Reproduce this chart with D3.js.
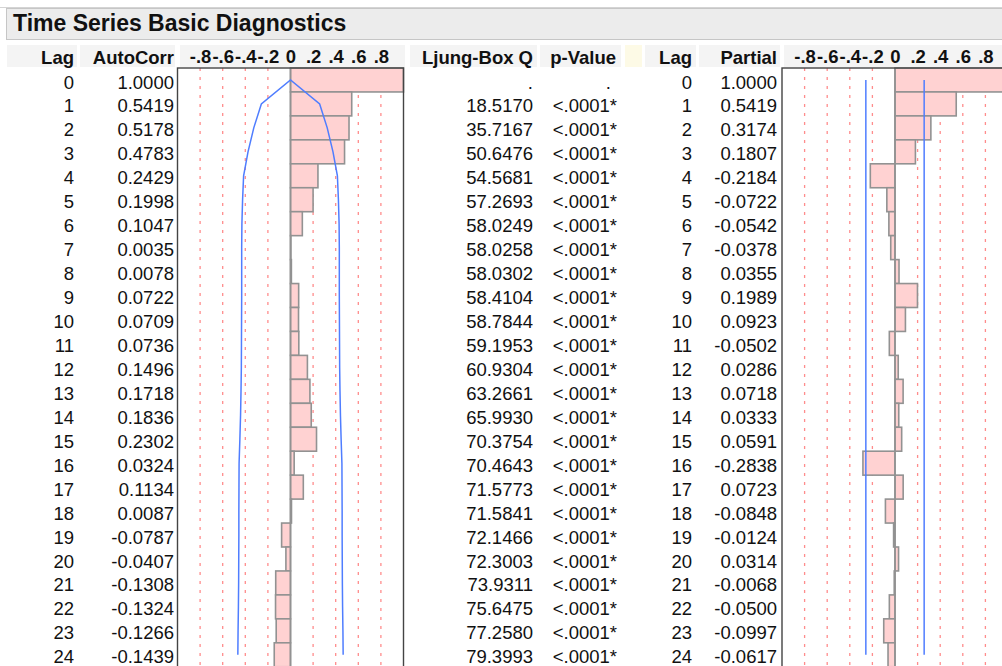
<!DOCTYPE html>
<html>
<head>
<meta charset="utf-8">
<script src="https://cdn.jsdelivr.net/npm/d3@7"></script>
<style>
body { margin: 0; background: #fff; }
svg text { font-family: "Liberation Sans", Arial, sans-serif; fill: #111; }
</style>
</head>
<body>
<div id="chart"></div>
<script>
var lags = [0, 1, 2, 3, 4, 5, 6, 7, 8, 9, 10, 11, 12, 13, 14, 15, 16, 17, 18, 19, 20, 21, 22, 23, 24];
var autoCorr = [1.0000, 0.5419, 0.5178, 0.4783, 0.2429, 0.1998, 0.1047, 0.0035, 0.0078, 0.0722, 0.0709, 0.0736,
    0.1496, 0.1718, 0.1836, 0.2302, 0.0324, 0.1134, 0.0087, -0.0787, -0.0407, -0.1308, -0.1324, -0.1266, -0.1439];
var ljungQ = [null, 18.5170, 35.7167, 50.6476, 54.5681, 57.2693, 58.0249, 58.0258, 58.0302, 58.4104, 58.7844, 59.1953,
    60.9304, 63.2661, 65.9930, 70.3754, 70.4643, 71.5773, 71.5841, 72.1466, 72.3003, 73.9311, 75.6475, 77.2580, 79.3993];
var pValue = [null, "<.0001*", "<.0001*", "<.0001*", "<.0001*", "<.0001*", "<.0001*", "<.0001*", "<.0001*", "<.0001*",
    "<.0001*", "<.0001*", "<.0001*", "<.0001*", "<.0001*", "<.0001*", "<.0001*", "<.0001*", "<.0001*", "<.0001*",
    "<.0001*", "<.0001*", "<.0001*", "<.0001*", "<.0001*"];
var partial = [1.0000, 0.5419, 0.3174, 0.1807, -0.2184, -0.0722, -0.0542, -0.0378, 0.0355, 0.1989, 0.0923, -0.0502,
    0.0286, 0.0718, 0.0333, 0.0591, -0.2838, 0.0723, -0.0848, -0.0124, 0.0314, -0.0068, -0.0500, -0.0997, -0.0617];
// confidence curve (half width per lag)
var acfLimit = [0, 0.258, 0.325, 0.376, 0.415, 0.424, 0.430, 0.432, 0.432, 0.432, 0.433, 0.434, 0.435,
    0.438, 0.442, 0.448, 0.455, 0.456, 0.457, 0.457, 0.458, 0.459, 0.461, 0.464, 0.466];
var pacfLimit = 0.258;
var tickValues = [-0.8, -0.6, -0.4, -0.2, 0, 0.2, 0.4, 0.6, 0.8];
var tickLabels = ["-.8", "-.6", "-.4", "-.2", "0", ".2", ".4", ".6", ".8"];

var width = 1002, height = 666;
var svg = d3.select('#chart').append('svg')
    .attr('width', width)
    .attr('height', height);

var rowTop = 68, rowH = 23.95;
var y = d3.scaleBand().domain(lags).range([rowTop, rowTop + lags.length * rowH]).padding(0);
var yc = function (lag) { return y(lag) + rowH / 2; };
var fmt = function (d) { return d3.format('.4f')(d).replace('\u2212', '-'); };
var blue = '#4f7dff';

// title bar
svg.append('line')
    .attr('x1', 0).attr('x2', width).attr('y1', 7.5).attr('y2', 7.5)
    .attr('stroke', '#d4d4d4');
svg.append('rect')
    .attr('x', 6.5).attr('y', 8.5)
    .attr('width', width).attr('height', 31)
    .attr('fill', '#ececec')
    .attr('stroke', '#c6c6c6');
svg.append('text')
    .attr('x', 13).attr('y', 31)
    .text('Time Series Basic Diagnostics')
    .style('font-size', '23px')
    .style('font-weight', 'bold');

// header cells
var headerCells = [[7, 77], [80, 175], [180, 405], [410, 537], [540, 621], [645, 696], [699, 780], [784, 1002]];
headerCells.forEach(function (c) {
    svg.append('rect')
        .attr('x', c[0]).attr('y', 45)
        .attr('width', c[1] - c[0]).attr('height', 22)
        .attr('fill', '#f4f4f4');
});
svg.append('rect')
    .attr('x', 625).attr('y', 45).attr('width', 17).attr('height', 22)
    .attr('fill', '#fdfae6');

var headers = [
    { label: 'Lag', x: 74 },
    { label: 'AutoCorr', x: 174 },
    { label: 'Ljung-Box Q', x: 533 },
    { label: 'p-Value', x: 616 },
    { label: 'Lag', x: 692 },
    { label: 'Partial', x: 777 }
];
headers.forEach(function (h) {
    svg.append('text')
        .attr('x', h.x).attr('y', 64)
        .text(h.label)
        .style('font-size', '18.5px')
        .style('font-weight', 'bold')
        .style('text-anchor', 'end');
});

// text columns
function column(values, xRight, format) {
    svg.append('g').selectAll('text')
        .data(values)
        .join('text')
        .attr('x', xRight)
        .attr('y', function (d, i) { return y(lags[i]) + 20.5; })
        .text(format)
        .style('font-size', '18.5px')
        .style('text-anchor', 'end');
}
column(lags, 74, function (d) { return d; });
column(autoCorr, 174, fmt);
column(ljungQ, 533, function (d) { return d === null ? '.' : fmt(d); });
column(pValue, 617, function (d) { return d === null ? '' : d; });
svg.append('text')
    .attr('x', 611).attr('y', y(0) + 20.5)
    .text('.')
    .style('font-size', '18.5px')
    .style('text-anchor', 'end');
column(lags, 692, function (d) { return d; });
column(partial, 777, fmt);

// bar plots
function barPlot(values, x0, x1) {
    var x = d3.scaleLinear().domain([-1, 1]).range([x0, x1]);
    var g = svg.append('g');
    var bottom = height + 5;

    g.selectAll('line.grid')
        .data(tickValues.filter(function (d) { return d !== 0; }))
        .join('line')
        .attr('class', 'grid')
        .attr('x1', function (d) { return x(d); })
        .attr('x2', function (d) { return x(d); })
        .attr('y1', rowTop).attr('y2', bottom)
        .attr('stroke', '#ff8c8c')
        .attr('stroke-width', 1.3)
        .attr('stroke-dasharray', '3,6');

    g.selectAll('rect.bar')
        .data(values)
        .join('rect')
        .attr('class', 'bar')
        .attr('x', function (d) { return Math.min(x(0), x(d)); })
        .attr('width', function (d) { return Math.abs(x(d) - x(0)); })
        .attr('y', function (d, i) { return y(lags[i]); })
        .attr('height', rowH)
        .attr('fill', '#ffd2d2')
        .attr('stroke', '#929292')
        .attr('stroke-width', 1.6);

    g.append('line')
        .attr('x1', x(0)).attr('x2', x(0))
        .attr('y1', rowTop).attr('y2', bottom)
        .attr('stroke', '#929292')
        .attr('stroke-width', 1.6);

    g.append('rect')
        .attr('x', x(-1)).attr('y', rowTop)
        .attr('width', x(1) - x(-1)).attr('height', bottom - rowTop)
        .attr('fill', 'none')
        .attr('stroke', '#444')
        .attr('stroke-width', 1.4);

    var axis = g.append('g')
        .attr('transform', 'translate(0,63)')
        .call(d3.axisTop(x).tickValues(tickValues)
            .tickFormat(function (d, i) { return tickLabels[i]; })
            .tickSize(0).tickPadding(0));
    axis.select('.domain').remove();
    axis.attr('font-family', null).attr('font-size', null);
    axis.selectAll('text')
        .style('font-size', '18.5px')
        .style('font-weight', 'bold')
        .style('fill', '#111');
    return x;
}

var xAcf = barPlot(autoCorr, 177.5, 403.5);
var xPacf = barPlot(partial, 782, 1008);

// ACF confidence curve
var curvePts = [];
for (var i = lags.length - 1; i >= 1; i--) curvePts.push([xAcf(-acfLimit[i]), yc(lags[i])]);
curvePts.push([xAcf(0), yc(lags[0])]);
for (var j = 1; j < lags.length; j++) curvePts.push([xAcf(acfLimit[j]), yc(lags[j])]);
svg.append('path')
    .attr('d', d3.line()(curvePts))
    .attr('fill', 'none')
    .attr('stroke', blue)
    .attr('stroke-width', 1.5);

// PACF limits
[-pacfLimit, pacfLimit].forEach(function (v) {
    svg.append('line')
        .attr('x1', xPacf(v)).attr('x2', xPacf(v))
        .attr('y1', yc(lags[0])).attr('y2', yc(lags[lags.length - 1]))
        .attr('stroke', blue)
        .attr('stroke-width', 1.5);
});
</script>
</body>
</html>
